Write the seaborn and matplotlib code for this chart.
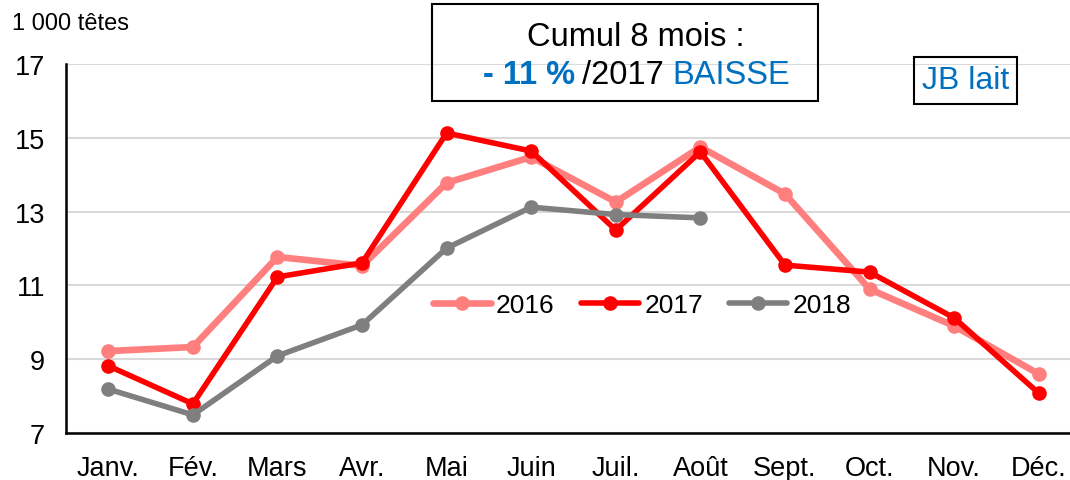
import matplotlib
matplotlib.use("Agg")
import matplotlib.pyplot as plt
from matplotlib.patches import Rectangle
import pandas as pd
import seaborn as sns

MONTHS = ['Janv.', 'Fév.', 'Mars', 'Avr.', 'Mai', 'Juin', 'Juil.', 'Août',
          'Sept.', 'Oct.', 'Nov.', 'Déc.']

Y2016 = [9.22, 9.33, 11.77, 11.53, 13.78, 14.48, 13.26, 14.75, 13.48, 10.90, 9.90, 8.60]
Y2017 = [8.82, 7.79, 11.23, 11.61, 15.13, 14.64, 12.50, 14.62, 11.55, 11.36, 10.12, 8.08]
Y2018 = [8.19, 7.49, 9.09, 9.93, 12.01, 13.12, 12.92, 12.83]

YEARS = ['2016', '2017', '2018']
COLORS = {'2016': '#FF7F7F', '2017': '#FF0000', '2018': '#7F7F7F'}
WIDTHS = {'2016': 4.8, '2017': 4.0, '2018': 4.0}

BLUE = '#0070C0'

rows = []
for year, vals in zip(YEARS, [Y2016, Y2017, Y2018]):
	for i, v in enumerate(vals):
		rows.append({'mois': i, 'annee': year, 'tetes': v})
data = pd.DataFrame(rows)

sns.set_style('white')
plt.rcParams['font.family'] = ['Liberation Sans', 'DejaVu Sans']
plt.rcParams['text.color'] = 'black'

W, H = 1070, 481
fig = plt.figure(figsize=(W / 100, H / 100), dpi=100)
ax = fig.add_axes([66 / W, 1 - 434 / H, (1081 - 66) / W, (434 - 65) / H])

for year in YEARS:
	sub = data[data['annee'] == year]
	sns.lineplot(data=sub, x='mois', y='tetes', ax=ax, color=COLORS[year],
	             linewidth=WIDTHS[year], marker='o', markersize=10.5,
	             markeredgewidth=0, label=year, zorder=3)

ax.set_xlim(-0.5, 11.5)
ax.set_ylim(7, 17)
ax.set_yticks([7, 9, 11, 13, 15, 17])
ax.set_xticks(range(12))
ax.set_xticklabels(MONTHS)
ax.set_xlabel('')
ax.set_ylabel('')
ax.yaxis.grid(True, color='#D9D9D9', linewidth=1.5)
ax.set_axisbelow(True)
ax.tick_params(axis='both', length=0, labelsize=19.5, colors='black')
ax.tick_params(axis='y', pad=15)
ax.tick_params(axis='x', pad=16)
for side in ['top', 'right']:
	ax.spines[side].set_visible(False)
for side in ['left', 'bottom']:
	ax.spines[side].set_color('black')
	ax.spines[side].set_linewidth(1.8)

ax.legend(loc='center', bbox_to_anchor=(642 / W, 1 - 306 / H),
          bbox_transform=fig.transFigure, ncol=3, frameon=False,
          fontsize=19, handlelength=2.2, columnspacing=1.0, handletextpad=0.2)

fig.text(12 / W, 1 - 24 / H, '1 000 têtes', fontsize=17, va='center', ha='left')

# encadré cumul
fig.patches.append(Rectangle((432 / W, 1 - 102 / H), (818 - 432) / W, (102 - 5) / H,
                             transform=fig.transFigure, fill=False,
                             edgecolor='black', linewidth=1.5))
fig.text(636 / W, 1 - 38 / H, 'Cumul 8 mois :', fontsize=23.5, ha='center', va='center')
fig.text(575 / W, 1 - 75 / H, '- 11 %', fontsize=23.5, ha='right', va='center',
         color=BLUE, fontweight='bold')
fig.text(582 / W, 1 - 75 / H, '/2017', fontsize=23.5, ha='left', va='center')
fig.text(672 / W, 1 - 75 / H, 'BAISSE', fontsize=23.5, ha='left', va='center', color=BLUE)

# encadré JB lait
fig.patches.append(Rectangle((914 / W, 1 - 105 / H), (1017 - 914) / W, (105 - 58) / H,
                             transform=fig.transFigure, fill=False,
                             edgecolor='black', linewidth=1.5))
fig.text(966 / W, 1 - 81 / H, 'JB lait', fontsize=23, ha='center', va='center', color=BLUE)

fig.savefig('out.png', dpi=100)
